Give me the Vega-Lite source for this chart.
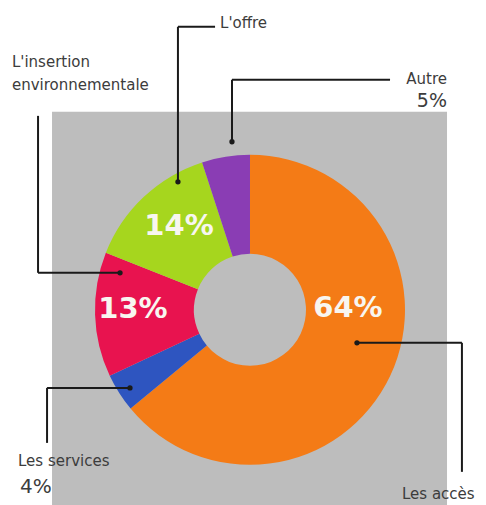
{
  "$schema": "https://vega.github.io/schema/vega-lite/v6.json",
  "width": 486,
  "height": 505,
  "autosize": {"type": "fit", "contains": "padding"},
  "padding": 0,
  "background": "white",
  "config": {"view": {"stroke": null}},
  "datasets": {
    "slices": [
      {"name": "Les accès", "pct": 64, "order": 1},
      {"name": "Les services", "pct": 4, "order": 2},
      {"name": "L'insertion environnementale", "pct": 13, "order": 3},
      {"name": "L'offre", "pct": 14, "order": 4},
      {"name": "Autre", "pct": 5, "order": 5}
    ],
    "panel": [{"x1": -127.5, "x2": 126.9, "y1": -126, "y2": 127.8}],
    "leaders": [
      {"label": "L'offre", "xa": -46.4, "ya": 82.6, "xb": -46.4, "yb": 182.7},
      {"label": "L'offre", "xa": -46.4, "ya": 182.7, "xb": -22.5, "yb": 182.7},
      {"label": "Autre", "xa": -11.6, "ya": 108.5, "xb": -11.6, "yb": 148.5},
      {"label": "Autre", "xa": -11.6, "ya": 148.5, "xb": 90.2, "yb": 148.5},
      {"label": "L'insertion environnementale", "xa": -136.5, "ya": 125.2, "xb": -136.5, "yb": 23.9},
      {"label": "L'insertion environnementale", "xa": -136.5, "ya": 23.9, "xb": -83.7, "yb": 23.9},
      {"label": "Les services", "xa": -77.3, "ya": -50.4, "xb": -130.7, "yb": -50.4},
      {"label": "Les services", "xa": -130.7, "ya": -50.4, "xb": -130.7, "yb": -85.9},
      {"label": "Les accès", "xa": 68.9, "ya": -21.3, "xb": 136.5, "yb": -21.3},
      {"label": "Les accès", "xa": 136.5, "ya": -21.3, "xb": 136.5, "yb": -104.6}
    ],
    "dots": [
      {"label": "L'offre", "x": -46.4, "y": 82.6},
      {"label": "Autre", "x": -11.6, "y": 108.5},
      {"label": "L'insertion environnementale", "x": -83.7, "y": 23.9},
      {"label": "Les services", "x": -77.3, "y": -50.4},
      {"label": "Les accès", "x": 68.9, "y": -21.3}
    ],
    "namesLeft": [
      {"text": "L'offre", "x": -19.3, "y": 185.3},
      {"text": "L'insertion", "x": -153.3, "y": 160.1},
      {"text": "environnementale", "x": -153.3, "y": 145.3},
      {"text": "Les services", "x": -149.4, "y": -97.5},
      {"text": "Les accès", "x": 97.9, "y": -118.8}
    ],
    "namesRight": [
      {"text": "Autre", "x": 126.9, "y": 149.1}
    ],
    "pctRight": [
      {"text": "5%", "x": 126.9, "y": 134.9}
    ],
    "pctLeft": [
      {"text": "4%", "x": -148.1, "y": -114.3}
    ],
    "pctInner": [
      {"text": "64%", "x": 63.1, "y": 1.3},
      {"text": "13%", "x": -75.4, "y": 0.6},
      {"text": "14%", "x": -45.7, "y": 54.2}
    ]
  },
  "layer": [
    {
      "data": {"name": "panel"},
      "mark": {"type": "rect", "color": "#bdbdbd"},
      "encoding": {
        "x": {"field": "x1", "type": "quantitative", "scale": {"domain": [-161, 152], "nice": false, "zero": false}, "axis": null},
        "x2": {"field": "x2"},
        "y": {"field": "y1", "type": "quantitative", "scale": {"domain": [-126, 200], "nice": false, "zero": false}, "axis": null},
        "y2": {"field": "y2"}
      }
    },
    {
      "data": {"name": "slices"},
      "mark": {"type": "arc", "outerRadius": 155, "innerRadius": 56},
      "encoding": {
        "x": {"datum": 0, "type": "quantitative"},
        "y": {"datum": 0, "type": "quantitative"},
        "theta": {"field": "pct", "type": "quantitative", "stack": true},
        "order": {"field": "order", "type": "quantitative"},
        "color": {
          "field": "name",
          "type": "nominal",
          "scale": {
            "domain": ["Les accès", "Les services", "L'insertion environnementale", "L'offre", "Autre"],
            "range": ["#f47b16", "#2e55c0", "#e8134f", "#a6d61e", "#8a3db4"]
          },
          "legend": null
        }
      }
    },
    {
      "data": {"name": "leaders"},
      "mark": {"type": "rule", "color": "#1a1a1a", "strokeWidth": 2},
      "encoding": {
        "x": {"field": "xa", "type": "quantitative"},
        "y": {"field": "ya", "type": "quantitative"},
        "x2": {"field": "xb"},
        "y2": {"field": "yb"}
      }
    },
    {
      "data": {"name": "dots"},
      "mark": {"type": "circle", "color": "#1a1a1a", "size": 28, "opacity": 1},
      "encoding": {
        "x": {"field": "x", "type": "quantitative"},
        "y": {"field": "y", "type": "quantitative"}
      }
    },
    {
      "data": {"name": "namesLeft"},
      "mark": {"type": "text", "align": "left", "baseline": "middle", "font": "DejaVu Sans", "fontSize": 15, "color": "#3c3c3c"},
      "encoding": {
        "x": {"field": "x", "type": "quantitative"},
        "y": {"field": "y", "type": "quantitative"},
        "text": {"field": "text"}
      }
    },
    {
      "data": {"name": "namesRight"},
      "mark": {"type": "text", "align": "right", "baseline": "middle", "font": "DejaVu Sans", "fontSize": 15, "color": "#3c3c3c"},
      "encoding": {
        "x": {"field": "x", "type": "quantitative"},
        "y": {"field": "y", "type": "quantitative"},
        "text": {"field": "text"}
      }
    },
    {
      "data": {"name": "pctRight"},
      "mark": {"type": "text", "align": "right", "baseline": "middle", "font": "DejaVu Sans", "fontSize": 19, "color": "#3c3c3c"},
      "encoding": {
        "x": {"field": "x", "type": "quantitative"},
        "y": {"field": "y", "type": "quantitative"},
        "text": {"field": "text"}
      }
    },
    {
      "data": {"name": "pctLeft"},
      "mark": {"type": "text", "align": "left", "baseline": "middle", "font": "DejaVu Sans", "fontSize": 20, "color": "#3c3c3c"},
      "encoding": {
        "x": {"field": "x", "type": "quantitative"},
        "y": {"field": "y", "type": "quantitative"},
        "text": {"field": "text"}
      }
    },
    {
      "data": {"name": "pctInner"},
      "mark": {"type": "text", "align": "center", "baseline": "middle", "font": "DejaVu Sans", "fontSize": 29, "fontWeight": "bold", "color": "#f8f6f0"},
      "encoding": {
        "x": {"field": "x", "type": "quantitative"},
        "y": {"field": "y", "type": "quantitative"},
        "text": {"field": "text"}
      }
    }
  ]
}
